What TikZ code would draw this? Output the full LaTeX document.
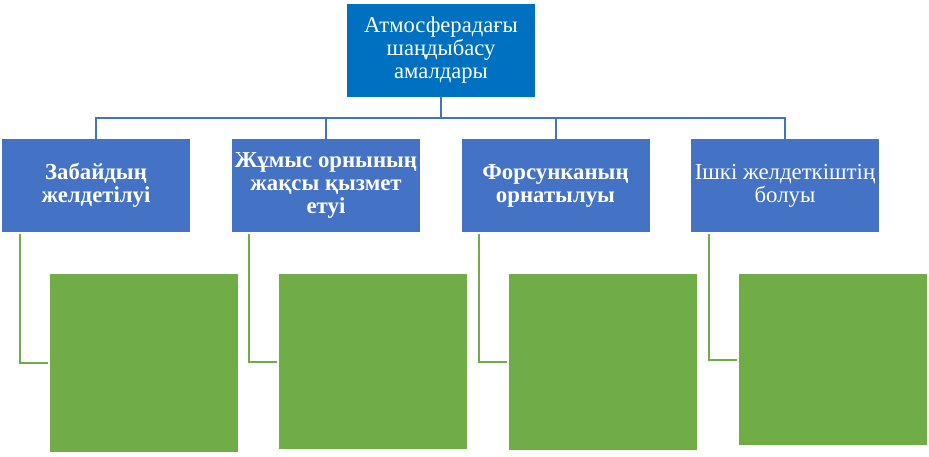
\documentclass[tikz,border=0pt]{standalone}
\usepackage{fontspec}
\setmainfont{Liberation Serif}
\definecolor{topblue}{HTML}{0070C0}
\definecolor{midblue}{HTML}{4472C4}
\definecolor{leafgreen}{HTML}{70AD47}
\begin{document}
\begin{tikzpicture}[x=1pt,y=-1pt,
  topbox/.style={rectangle,fill=topblue,text=white,minimum width=188pt,minimum height=93pt,inner sep=0pt,align=center,font=\fontsize{22.6}{23}\selectfont},
  midbox/.style={rectangle,fill=midblue,text=white,minimum width=188pt,minimum height=93pt,inner sep=0pt,align=center,font=\fontsize{22.8}{23}\selectfont},
  leafbox/.style={rectangle,fill=leafgreen,minimum width=188pt,inner sep=0pt},
  busline/.style={draw=midblue,line width=2pt},
  leafline/.style={draw=leafgreen,line width=2pt,shorten <=2pt,shorten >=2pt}]
\useasboundingbox (0,0) rectangle (929,456);
\node[topbox] (top) at (441,50.5) {Атмосферадағы\\шаңдыбасу\\амалдары};
\node[midbox] (m1) at (96,185.5) {\bfseries Забайдың\\\bfseries желдетілуі};
\node[midbox] (m2) at (326,185.5) {\bfseries Жұмыс орнының\\\bfseries жақсы қызмет\\\bfseries етуі};
\node[midbox] (m3) at (555.5,185.5) {\bfseries Форсунканың\\\bfseries орнатылуы};
\node[midbox] (m4) at (785,185.5) {Ішкі желдеткіштің\\болуы};
\node[leafbox,minimum height=178pt] (g1) at (144,363) {};
\node[leafbox,minimum height=175pt] (g2) at (373,361.5) {};
\node[leafbox,minimum height=176pt] (g3) at (603,362) {};
\node[leafbox,minimum height=171pt] (g4) at (833,359.5) {};
\coordinate (bus) at (441,118);
\draw[busline] (top.south) -- (bus);
\foreach \m in {m1,m2,m3,m4}{\draw[busline] (bus) -| (\m.north);}
\draw[leafline] ([xshift=18pt]m1.south west) |- (g1.west);
\draw[leafline] ([xshift=17pt]m2.south west) |- (g2.west);
\draw[leafline] ([xshift=18pt]m3.south west) |- (g3.west);
\draw[leafline] ([xshift=18pt]m4.south west) |- (g4.west);
\end{tikzpicture}
\end{document}
